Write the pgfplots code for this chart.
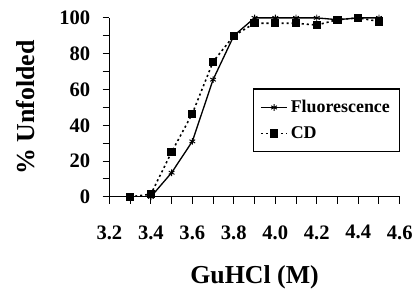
\documentclass[border=0pt]{standalone}
\usepackage{fontspec}
\setmainfont{Liberation Serif}
\usepackage{pgfplots}
\pgfplotsset{compat=1.18}
\begin{document}
\begin{tikzpicture}
\begin{axis}[
  scale only axis,
  width=219pt, height=135pt,
  xmin=3.2, xmax=4.6, ymin=0, ymax=100,
  axis x line*=bottom, axis y line*=left,
  axis line style={line width=0.75pt, black},
  xtick={3.2,3.4,...,4.6},
  xticklabels={3.2,3.4,3.6,3.8,4.0,4.2,4.4,4.6},
  ytick={0,20,...,100},
  minor x tick num=1, minor y tick num=1,
  tick align=outside,
  major tick length=5pt, minor tick length=5pt,
  tick style={black, line width=0.75pt},
  /pgf/number format/assume math mode=true,
  ticklabel style={font=\fontsize{15.5}{18}\selectfont\bfseries},
  xticklabel style={yshift=-13pt},
  yticklabel style={xshift=-6pt},
  xlabel={GuHCl (M)},
  ylabel={\% Unfolded},
  label style={font=\fontsize{19.5}{23}\selectfont\bfseries},
  xlabel style={at={(axis description cs:0.5,0)}, anchor=center, yshift=-61pt},
  ylabel style={at={(axis description cs:0,0.5)}, anchor=center, yshift=63pt},
  legend style={at={(rel axis cs:1,0.606)}, anchor=north east,
    draw=black, line width=0.9pt, font=\fontsize{13.5}{15}\selectfont\bfseries,
    row sep=5pt, inner xsep=5pt, inner ysep=6.5pt},
  legend cell align=left,
  legend image code/.code={
    \draw[mark repeat=2,mark phase=2,#1] plot coordinates {(0pt,0pt)(10pt,0pt)(20pt,0pt)};
  },
]
\addplot[black, line width=1pt, mark=asterisk, mark size=2.5pt, mark options={solid, line width=0.7pt}]
coordinates {(3.3,0)(3.4,0)(3.5,13.5)(3.6,31)(3.7,65.5)(3.8,90)(3.9,100)(4.0,100)(4.1,100)(4.2,100)(4.3,99)(4.4,100)(4.5,100)};
\addlegendentry{Fluorescence}
\addplot[black, line width=1.2pt, dash pattern={on 1.6pt off 2.2pt}, mark=square*, mark size=2.5pt, mark options={solid}]
coordinates {(3.3,0)(3.4,1.5)(3.5,25)(3.6,46.5)(3.7,75.5)(3.8,90)(3.9,97)(4.0,97)(4.1,97)(4.2,96)(4.3,99)(4.4,100)(4.5,98)};
\addlegendentry{CD}
\end{axis}
\path ([shift={(-82.5pt,-68.25pt)}]current axis.south west) rectangle ([shift={(11.25pt,13.5pt)}]current axis.north east);
\end{tikzpicture}
\end{document}
